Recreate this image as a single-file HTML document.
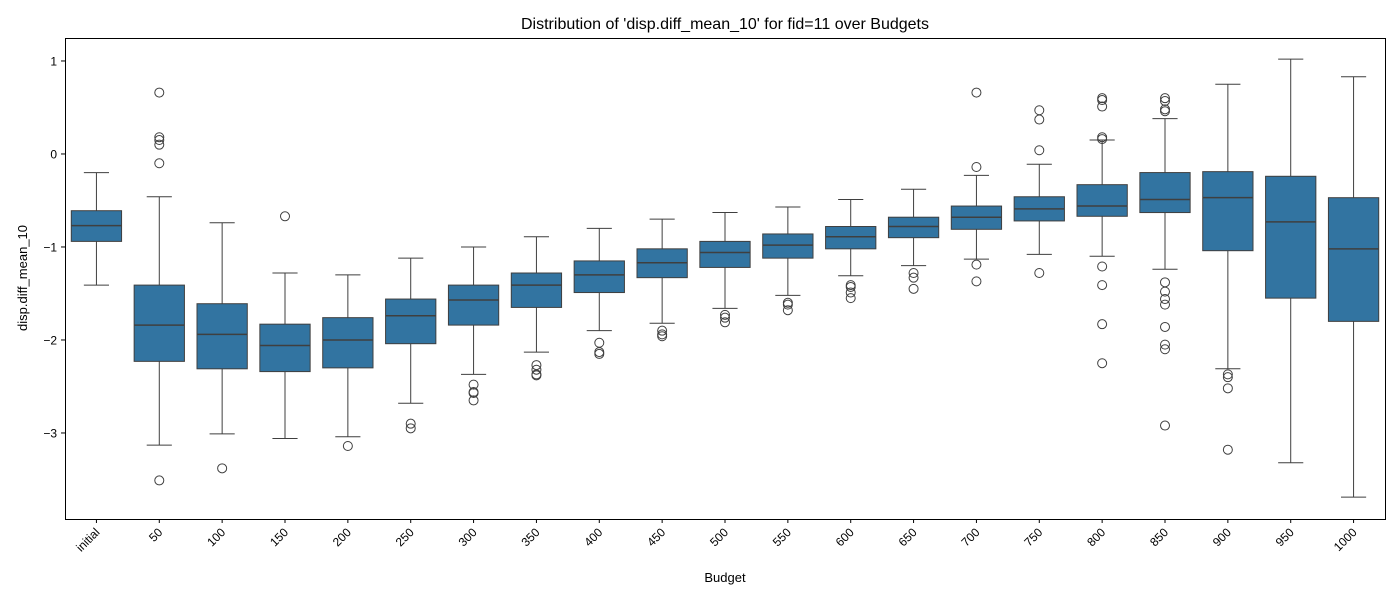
<!DOCTYPE html>
<html><head><meta charset="utf-8"><style>
body{margin:0;background:#fff;font-family:"Liberation Sans","DejaVu Sans",sans-serif}
svg text{font-family:"Liberation Sans","DejaVu Sans",sans-serif;fill:#000}
</style></head><body>
<svg id="chart" width="1400" height="600" xmlns="http://www.w3.org/2000/svg">
<text x="725" y="29" font-size="16" text-anchor="middle">Distribution of 'disp.diff_mean_10' for fid=11 over Budgets</text>
<text x="725" y="582" font-size="13" text-anchor="middle">Budget</text>
<text x="27" y="278" font-size="13" text-anchor="middle" transform="rotate(-90 27 278)">disp.diff_mean_10</text>
<g id="plot"></g>
<rect x="65.5" y="38.5" width="1320" height="481" fill="none" stroke="#000" stroke-width="1"/>
</svg>
<script>
const categories=["initial","50","100","150","200","250","300","350","400","450","500","550","600","650","700","750","800","850","900","950","1000"];
const whiskerHigh=[-0.20,-0.46,-0.74,-1.28,-1.30,-1.12,-1.00,-0.89,-0.80,-0.70,-0.63,-0.57,-0.49,-0.38,-0.23,-0.11,0.15,0.38,0.75,1.02,0.83];
const q3=[-0.61,-1.41,-1.61,-1.83,-1.76,-1.56,-1.41,-1.28,-1.15,-1.02,-0.94,-0.86,-0.78,-0.68,-0.56,-0.46,-0.33,-0.20,-0.19,-0.24,-0.47];
const medians=[-0.77,-1.84,-1.94,-2.06,-2.00,-1.74,-1.57,-1.41,-1.30,-1.17,-1.06,-0.98,-0.89,-0.78,-0.68,-0.59,-0.56,-0.49,-0.47,-0.73,-1.02];
const q1=[-0.94,-2.23,-2.31,-2.34,-2.30,-2.04,-1.84,-1.65,-1.49,-1.33,-1.22,-1.12,-1.02,-0.90,-0.81,-0.72,-0.67,-0.63,-1.04,-1.55,-1.80];
const whiskerLow=[-1.41,-3.13,-3.01,-3.06,-3.04,-2.68,-2.37,-2.13,-1.90,-1.82,-1.66,-1.52,-1.31,-1.20,-1.13,-1.08,-1.10,-1.24,-2.31,-3.32,-3.69];
const outliers=[[],[0.66,0.18,0.15,0.10,-0.10,-3.51],[-3.38],[-0.67],[-3.14],[-2.90,-2.95],[-2.48,-2.56,-2.57,-2.65],[-2.27,-2.32,-2.37,-2.38],[-2.03,-2.13,-2.15],[-1.90,-1.94,-1.96],[-1.73,-1.76,-1.81],[-1.60,-1.62,-1.68],[-1.41,-1.43,-1.49,-1.55],[-1.28,-1.33,-1.45],[0.66,-0.14,-1.19,-1.37],[0.47,0.37,0.04,-1.28],[0.60,0.58,0.51,0.18,0.16,-1.21,-1.41,-1.83,-2.25],[0.60,0.57,0.48,0.46,-1.38,-1.48,-1.56,-1.62,-1.86,-2.05,-2.10,-2.92],[-2.37,-2.40,-2.52,-3.18],[],[]];
const yTicks=[1,0,-1,-2,-3];
const yTickLabels=["1","0","\u22121","\u22122","\u22123"];
const X0=65,X1=1385,Y0=38,Y1=519,YMAX=1.247,YMIN=-3.925;
const step=(X1-X0)/categories.length;
const xc=i=>X0+step*(i+0.5);
const ys=v=>Y0+(YMAX-v)/(YMAX-YMIN)*(Y1-Y0);
const NS="http://www.w3.org/2000/svg";
const g=document.getElementById('plot');
function mk(t,a){const e=document.createElementNS(NS,t);for(const k in a)e.setAttribute(k,a[k]);g.appendChild(e);return e;}
const lc="#3f3f3f";
yTicks.forEach((v,i)=>{
 const t=mk('line',{x1:X0-4,x2:X0,y1:ys(v),y2:ys(v),stroke:"#000"});
 
 
 const l=mk('text',{x:X0-8,y:ys(v)+4.5,'font-size':12,'text-anchor':'end'});
 l.textContent=yTickLabels[i];
 
 
});
const bw=step*0.8;
categories.forEach((c,i)=>{
 const x=xc(i);
 const t=mk('line',{x1:x,x2:x,y1:Y1,y2:Y1+4,stroke:"#000"});
 
 
 const l=mk('text',{x:x+4,y:Y1+14,'font-size':12,'text-anchor':'end',transform:`rotate(-45 ${x+4} ${Y1+14})`});
 l.textContent=c;
 
 
 const w1=mk('line',{x1:x,x2:x,y1:ys(whiskerHigh[i]),y2:ys(q3[i]),stroke:lc});
 
 
 const w2=mk('line',{x1:x,x2:x,y1:ys(q1[i]),y2:ys(whiskerLow[i]),stroke:lc});
 
 
 const c1=mk('line',{x1:x-bw/4,x2:x+bw/4,y1:ys(whiskerHigh[i]),y2:ys(whiskerHigh[i]),stroke:lc});
 
 
 const c2=mk('line',{x1:x-bw/4,x2:x+bw/4,y1:ys(whiskerLow[i]),y2:ys(whiskerLow[i]),stroke:lc});
 
 
 const b=mk('rect',{x:x-bw/2,y:ys(q3[i]),width:bw,height:ys(q1[i])-ys(q3[i]),fill:"#3274a1",stroke:lc});
 
 
 const m=mk('line',{x1:x-bw/2,x2:x+bw/2,y1:ys(medians[i]),y2:ys(medians[i]),stroke:lc,'stroke-width':1.5});
 
 
 outliers[i].forEach(v=>{
  const o=mk('circle',{cx:x,cy:ys(v),r:4.5,fill:"none",stroke:lc});
  
  
 });
});
</script>
</body></html>
